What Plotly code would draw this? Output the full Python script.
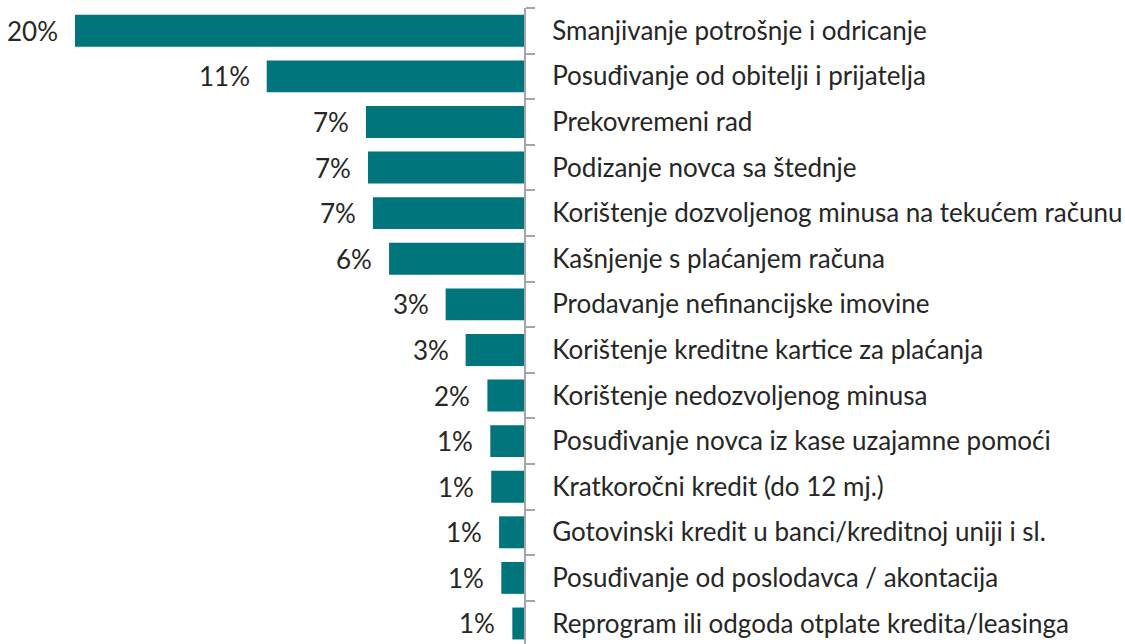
import plotly.graph_objects as go

categories = [
    "Smanjivanje potrošnje i odricanje",
    "Posuđivanje od obitelji i prijatelja",
    "Prekovremeni rad",
    "Podizanje novca sa štednje",
    "Korištenje dozvoljenog minusa na tekućem računu",
    "Kašnjenje s plaćanjem računa",
    "Prodavanje nefinancijske imovine",
    "Korištenje kreditne kartice za plaćanja",
    "Korištenje nedozvoljenog minusa",
    "Posuđivanje novca iz kase uzajamne pomoći",
    "Kratkoročni kredit (do 12 mj.)",
    "Gotovinski kredit u banci/kreditnoj uniji i sl.",
    "Posuđivanje od poslodavca / akontacija",
    "Reprogram ili odgoda otplate kredita/leasinga",
]
values = [20.0, 11.46, 7.04, 6.95, 6.73, 6.01, 3.49, 2.60, 1.63, 1.50, 1.46, 1.11, 1.01, 0.52]
value_labels = ["20%", "11%", "7%", "7%", "7%", "6%", "3%", "3%", "2%", "1%", "1%", "1%", "1%", "1%"]

FONT = "Lato"
TXT = "#262626"
BAR = "#00757B"

fig = go.Figure(go.Bar(
    y=categories, x=values, orientation="h",
    marker=dict(color=BAR, line=dict(width=0)),
    hoverinfo="skip",
))

for c, v, t in zip(categories, values, value_labels):
    fig.add_annotation(x=v, y=c, text=t, showarrow=False, xanchor="right",
                       yanchor="middle", xshift=-15,
                       font=dict(family=FONT, size=26, color=TXT))

fig.update_layout(
    width=1125, height=644,
    margin=dict(l=0, r=601, t=8, b=0),
    paper_bgcolor="white", plot_bgcolor="white",
    bargap=0.30, showlegend=False,
    xaxis=dict(range=[23.34, 0], visible=False, showgrid=False, zeroline=False),
    yaxis=dict(
        type="category", range=[13.45, -0.5], side="right",
        showline=True, linecolor="#A6A6A6", linewidth=2,
        ticks="outside", tickson="boundaries", ticklen=9, tickwidth=1.5,
        tickcolor="#A6A6A6", showgrid=False, zeroline=False,
        tickfont=dict(family=FONT, size=26, color=TXT),
        ticklabelstandoff=21,
    ),
)

fig.write_html("out.html")
